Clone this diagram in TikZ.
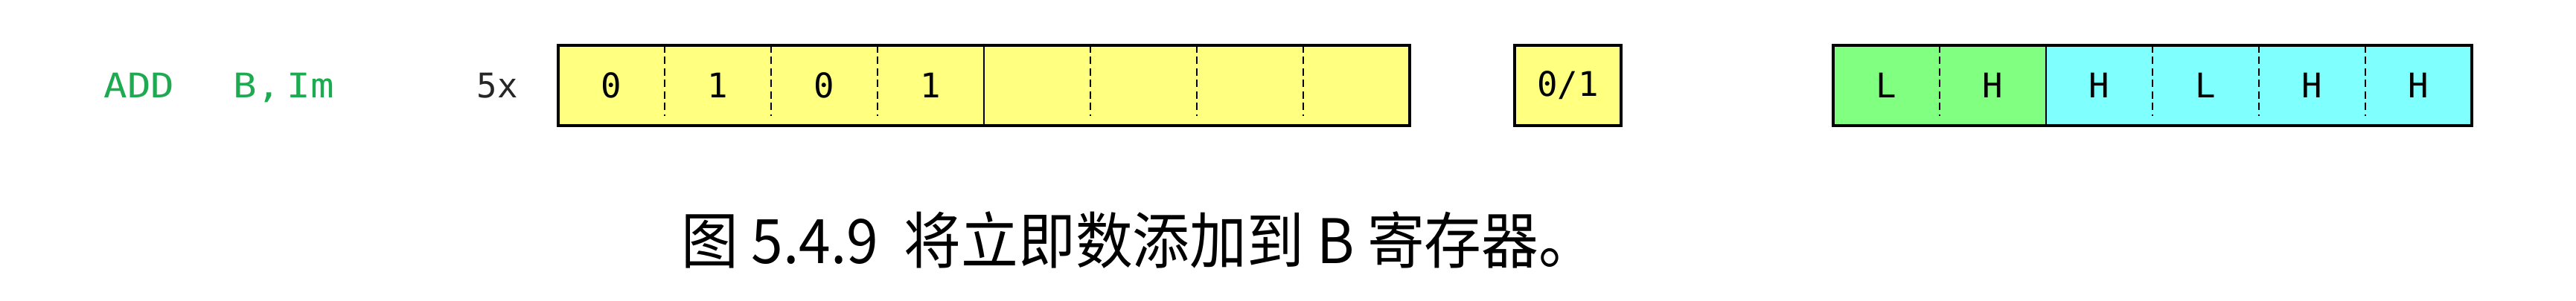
\documentclass[tikz,border=0pt]{standalone}
\usepackage{fontspec}
\newfontfamily\cjk[FakeStretch=0.93]{Noto Sans CJK SC}
\newfontfamily\pix[FakeStretch=1.15]{DejaVu Sans Mono}
\newfontfamily\pixn{DejaVu Sans Mono}
\usetikzlibrary{positioning}

\definecolor{regyellow}{RGB}{255,255,128}
\definecolor{reggreen}{RGB}{128,255,128}
\definecolor{regcyan}{RGB}{128,255,255}
\definecolor{asmgreen}{RGB}{30,170,80}

\begin{document}
\begin{tikzpicture}[
    node distance=0pt,
    cell/.style={rectangle, minimum width=1.43cm, minimum height=1.08cm, inner sep=0pt, outer sep=0pt, font=\pixn\fontsize{13}{13}\selectfont},
    ycell/.style={cell, fill=regyellow},
    gcell/.style={cell, fill=reggreen},
    ccell/.style={cell, fill=regcyan},
    frame/.style={draw=black, line width=1.2pt},
    solidsep/.style={line width=0.7pt},
    dashsep/.style={line width=0.8pt, dash pattern=on 0.1cm off 0.055cm},
]
\useasboundingbox (0,0) rectangle (34.61,-4.05);

% Instruction and repeat count
\node[anchor=base west, inner sep=0pt, text=asmgreen, font=\pix\fontsize{13}{13}\selectfont] (instr) at (1.39,-1.32) {ADD\hspace{0.79cm}B,\hspace{0.09cm}Im};
\node[anchor=base west, inner sep=0pt, text=black!85, font=\pixn\fontsize{13}{13}\selectfont] (count) at (6.40,-1.32) {5x};

% Opcode byte
\node[ycell, anchor=north west] (op1) at (7.50,-0.61) {0};
\node[ycell, right=of op1] (op2) {1};
\node[ycell, right=of op2] (op3) {0};
\node[ycell, right=of op3] (op4) {1};
\node[ycell, right=of op4] (op5) {};
\node[ycell, right=of op5] (op6) {};
\node[ycell, right=of op6] (op7) {};
\node[ycell, right=of op7] (op8) {};

% Carry bit
\node[ycell, anchor=north west] (carry) at (20.35,-0.61) {0/1};

% Register pair
\node[gcell, anchor=north west] (rg1) at (24.63,-0.61) {L};
\node[gcell, right=of rg1] (rg2) {H};
\node[ccell, right=of rg2] (rg3) {H};
\node[ccell, right=of rg3] (rg4) {L};
\node[ccell, right=of rg4] (rg5) {H};
\node[ccell, right=of rg5] (rg6) {H};

% Separators
\draw[dashsep] (op1.north east) -- ([yshift=0.13cm]op1.south east);
\draw[dashsep] (op2.north east) -- ([yshift=0.13cm]op2.south east);
\draw[dashsep] (op3.north east) -- ([yshift=0.13cm]op3.south east);
\draw[solidsep] (op4.north east) -- (op4.south east);
\draw[dashsep] (op5.north east) -- ([yshift=0.13cm]op5.south east);
\draw[dashsep] (op6.north east) -- ([yshift=0.13cm]op6.south east);
\draw[dashsep] (op7.north east) -- ([yshift=0.13cm]op7.south east);

\draw[dashsep] (rg1.north east) -- ([yshift=0.13cm]rg1.south east);
\draw[solidsep] (rg2.north east) -- (rg2.south east);
\draw[dashsep] (rg3.north east) -- ([yshift=0.13cm]rg3.south east);
\draw[dashsep] (rg4.north east) -- ([yshift=0.13cm]rg4.south east);
\draw[dashsep] (rg5.north east) -- ([yshift=0.13cm]rg5.south east);

% Frames
\draw[frame] (op1.north west) rectangle (op8.south east);
\draw[frame] (carry.north west) rectangle (carry.south east);
\draw[frame] (rg1.north west) rectangle (rg6.south east);

% Caption
\node[font=\cjk\fontsize{23.5}{23.5}\selectfont] (caption) at (15.30,-3.23) {图 5.4.9\ \ 将立即数添加到 B 寄存器。};

\end{tikzpicture}
\end{document}
